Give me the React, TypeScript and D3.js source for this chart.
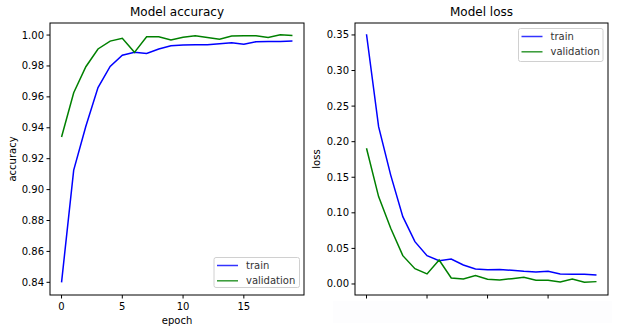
import React from "react";
import * as d3 from "d3";

const epochs = d3.range(20);
const accTrain = [0.840, 0.9126, 0.941, 0.966, 0.9797, 0.9869, 0.9888, 0.9881, 0.991, 0.9931, 0.9935, 0.9937, 0.9937, 0.9944, 0.995, 0.994, 0.9957, 0.9959, 0.9959, 0.9961];
const accVal = [0.934, 0.9627, 0.9795, 0.991, 0.9961, 0.9979, 0.9888, 0.9989, 0.9989, 0.9968, 0.9986, 0.9995, 0.9984, 0.9973, 0.9994, 0.9995, 0.9995, 0.9984, 1.0002, 0.9997];
const lossTrain = [0.351, 0.2211, 0.153, 0.0946, 0.0595, 0.0398, 0.0328, 0.0351, 0.0267, 0.0211, 0.0201, 0.0204, 0.0192, 0.0178, 0.0169, 0.0178, 0.014, 0.0136, 0.0136, 0.0127];
const lossVal = [0.1907, 0.1228, 0.0782, 0.0398, 0.0215, 0.0141, 0.0337, 0.0084, 0.007, 0.0117, 0.0066, 0.0056, 0.0075, 0.0094, 0.0052, 0.0052, 0.0028, 0.007, 0.0023, 0.0033];
const accTicks = [0.84, 0.86, 0.88, 0.90, 0.92, 0.94, 0.96, 0.98, 1.00];
const lossTicks = [0.0, 0.05, 0.10, 0.15, 0.20, 0.25, 0.30, 0.35];
const epochTicks = [0, 5, 10, 15];
const seriesNames = ["train", "validation"];
const colors = ["#0000ff", "#008000"];

const FONT = "DejaVu Sans, sans-serif";

type PanelProps = {
  left: number; right: number; top: number; bottom: number;
  yDomain: [number, number]; yTicks: number[]; yFmt: (v: number) => string;
  series: number[][]; title: string; ylabel: string; xlabel: string | null;
  showXLabels: boolean; legend: { x0: number; y0: number; w: number; h: number };
  ylabelX: number;
};

function Panel(p: PanelProps) {
  const x = d3.scaleLinear().domain([-0.95, 19.95]).range([p.left, p.right]);
  const y = d3.scaleLinear().domain(p.yDomain).range([p.bottom, p.top]);
  const line = d3.line<number>().x((_, i) => x(epochs[i])).y((d) => y(d));
  const cx = (p.left + p.right) / 2;
  const cy = (p.top + p.bottom) / 2;
  return (
    <g fontFamily={FONT}>
      {p.series.map((s, i) => (
        <path key={i} d={line(s) || ""} fill="none" stroke={colors[i]} strokeWidth={1.5} />
      ))}
      <rect x={p.left} y={p.top} width={p.right - p.left} height={p.bottom - p.top} fill="none" stroke="#000" strokeWidth={1} />
      {p.yTicks.map((t) => (
        <g key={t}>
          <line x1={p.left - 3.5} x2={p.left} y1={y(t)} y2={y(t)} stroke="#000" />
          <text x={p.left - 6} y={y(t)} dy="0.35em" textAnchor="end" fontSize={10} fill="#000">{p.yFmt(t)}</text>
        </g>
      ))}
      {epochTicks.map((t) => (
        <g key={t}>
          <line x1={x(t)} x2={x(t)} y1={p.bottom} y2={p.bottom + 3.5} stroke="#000" />
          {p.showXLabels && (
            <text x={x(t)} y={p.bottom + 15} textAnchor="middle" fontSize={10} fill="#000">{t}</text>
          )}
        </g>
      ))}
      <text x={cx} y={p.top - 7} textAnchor="middle" fontSize={12} fill="#000">{p.title}</text>
      {p.xlabel && (
        <text x={cx} y={p.bottom + 29} textAnchor="middle" fontSize={10} fill="#000">{p.xlabel}</text>
      )}
      <text transform={`translate(${p.ylabelX},${cy}) rotate(-90)`} textAnchor="middle" fontSize={10} fill="#000">{p.ylabel}</text>
      <g>
        <rect x={p.legend.x0} y={p.legend.y0} width={p.legend.w} height={p.legend.h} rx={2} fill="#fff" fillOpacity={0.8} stroke="#d0d0d0" />
        {seriesNames.map((n, i) => (
          <g key={n}>
            <line x1={p.legend.x0 + 3} x2={p.legend.x0 + 24} y1={p.legend.y0 + 8 + i * 15.3} y2={p.legend.y0 + 8 + i * 15.3} stroke={colors[i]} strokeOpacity={0.8} strokeWidth={1.5} />
            <text x={p.legend.x0 + 32} y={p.legend.y0 + 8 + i * 15.3} dy="0.35em" fontSize={10} fill="#333">{n}</text>
          </g>
        ))}
      </g>
    </g>
  );
}

export default function App() {
  return (
    <svg width={619} height={333} style={{ position: "absolute", left: 0, top: 0, background: "#fff" }}>
      <rect x={0} y={0} width={619} height={333} fill="#fff" />
      <Panel left={50} right={304} top={23} bottom={295}
        yDomain={[0.8318, 1.0078]} yTicks={accTicks} yFmt={(v) => v.toFixed(2)}
        series={[accTrain, accVal]} title="Model accuracy" ylabel="accuracy" xlabel="epoch"
        showXLabels={true} legend={{ x0: 214, y0: 257.5, w: 85.5, h: 30 }} ylabelX={16} />
      <Panel left={355} right={608} top={23} bottom={295}
        yDomain={[-0.0155, 0.3668]} yTicks={lossTicks} yFmt={(v) => v.toFixed(2)}
        series={[lossTrain, lossVal]} title="Model loss" ylabel="loss" xlabel={null}
        showXLabels={false} legend={{ x0: 518.5, y0: 28.5, w: 84.5, h: 33 }} ylabelX={320} />
      <rect x={333} y={301} width={279} height={22} fill="#fdfdfe" />
    </svg>
  );
}
